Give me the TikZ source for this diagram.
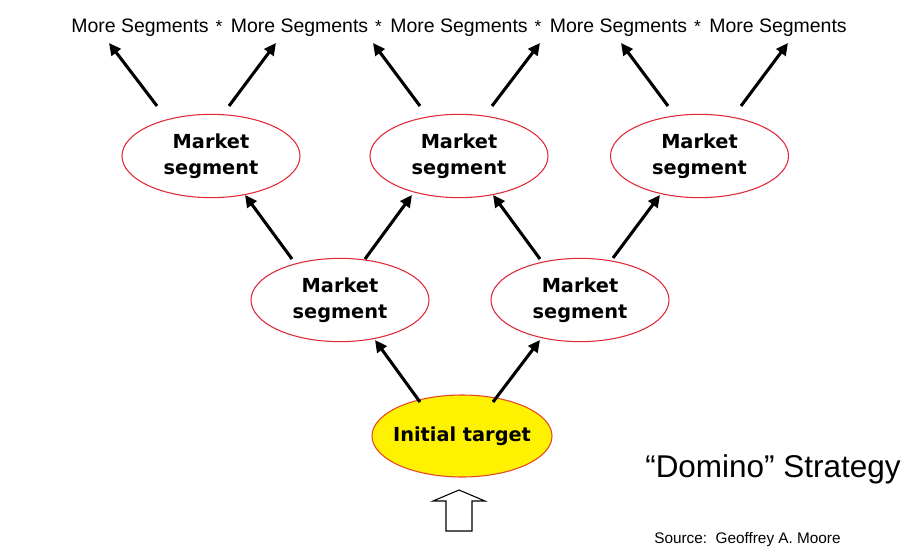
\documentclass[tikz,border=0pt]{standalone}
\usepackage{fontspec}
\setmainfont{Liberation Sans}
\newfontfamily\heavy{DejaVu Sans}
\usetikzlibrary{calc,shapes.geometric,arrows.meta}
\definecolor{segred}{RGB}{225,40,55}
\definecolor{tgtred}{RGB}{230,70,40}
\tikzset{
  seg/.style={ellipse,draw=segred,line width=0.8pt,fill=white,inner sep=0pt,
    minimum width=133.5pt,minimum height=62.5pt,align=center,
    font=\heavy\bfseries\fontsize{14.5}{19.5}\selectfont},
  tgt/.style={seg,draw=tgtred,fill=yellow,inner xsep=-6pt,minimum width=135pt,minimum height=61.5pt},
  arr/.style={line width=2.3pt,-{Triangle[length=9pt,width=8.5pt]}},
  more/.style={anchor=base,font=\fontsize{14.6}{17}\selectfont,inner sep=0pt},
  star/.style={anchor=base,font=\fontsize{13}{16}\selectfont,inner sep=0pt},
  block/.style={draw=black,line width=0.8pt,fill=white}
}
\begin{document}
\begin{tikzpicture}[x=0.75pt,y=-0.75pt]
\useasboundingbox (0,0) rectangle (923,552);
% top labels
\node[more] (s1) at (140,33) {More Segments};
\node[more] (s2) at (299.5,33) {More Segments};
\node[more] (s3) at (459,33) {More Segments};
\node[more] (s4) at (618.5,33) {More Segments};
\node[more] (s5) at (778,33) {More Segments};
\node[star] (a1) at (219,33) {*};
\node[star] (a2) at (378.5,33) {*};
\node[star] (a3) at (538,33) {*};
\node[star] (a4) at (697.5,33) {*};
% ellipses
\node[seg] (t1) at (211,156) {Market\\segment};
\node[seg] (t2) at (459,156) {Market\\segment};
\node[seg] (t3) at (699.5,156) {Market\\segment};
\node[seg] (m1) at (340,300) {Market\\segment};
\node[seg] (m2) at (580,300) {Market\\segment};
\node[tgt] (i) at (462,436) {Initial target};
% top arrows
\draw[arr] ($(t1)+(-54,-50)$) -- ($(t1)+(-102,-113)$);
\draw[arr] ($(t1)+(18,-50)$) -- ($(t1)+(65,-113)$);
\draw[arr] ($(t2)+(-39,-50)$) -- ($(t2)+(-86,-113)$);
\draw[arr] ($(t2)+(33,-50)$) -- ($(t2)+(81,-113)$);
\draw[arr] ($(t3)+(-31.5,-50)$) -- ($(t3)+(-78.5,-113)$);
\draw[arr] ($(t3)+(41.5,-50)$) -- ($(t3)+(88.5,-113)$);
% middle to top
\draw[arr] ($(m1)+(-48,-41)$) -- ($(t1)+(34,39)$);
\draw[arr] ($(m1)+(25,-41)$) -- ($(t2)+(-47,39)$);
\draw[arr] ($(m2)+(-40,-41)$) -- ($(t2)+(34,39)$);
\draw[arr] ($(m2)+(33,-42)$) -- ($(t3)+(-39.5,39)$);
% initial to middle
\draw[arr] ($(i)+(-42,-34)$) -- ($(m1)+(35,40)$);
\draw[arr] ($(i)+(31,-34)$) -- ($(m2)+(-40,40)$);
% block arrow
\coordinate (b) at (459,490);
\draw[block] ($(b)+(-13,41)$) -- ($(b)+(-13,11)$) -- ($(b)+(-26,11)$) -- (b)
  -- ($(b)+(26,11)$) -- ($(b)+(13,11)$) -- ($(b)+(13,41)$) -- cycle;
% titles
\node[anchor=base west,inner sep=0pt,font=\fontsize{23.6}{28}\selectfont] (dom) at (645,477) {“Domino” Strategy};
\node[anchor=base west,inner sep=0pt,font=\fontsize{11.5}{14}\selectfont] (src) at (654,543) {Source:\ \ Geoffrey A. Moore};
\end{tikzpicture}
\end{document}
